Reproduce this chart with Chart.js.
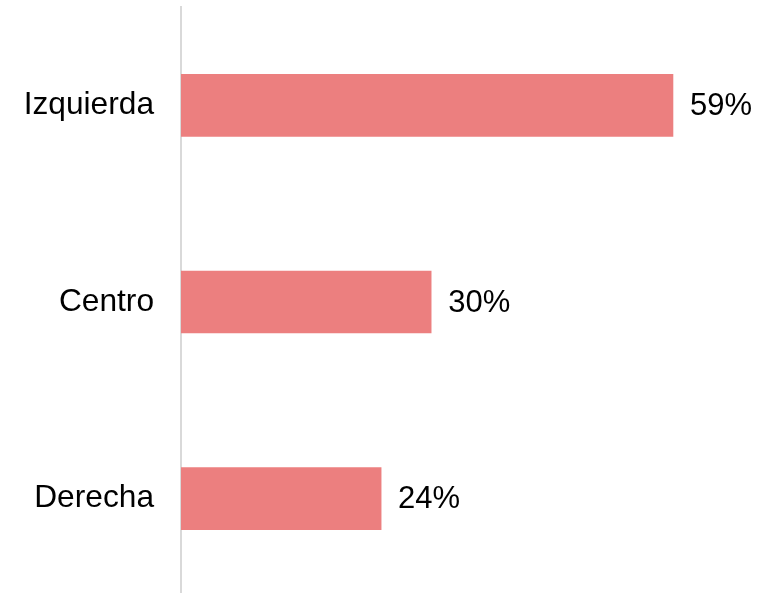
<!DOCTYPE html>
<html>
<head>
<meta charset="utf-8">
<script src="https://cdn.jsdelivr.net/npm/chart.js@4"></script>
<style>
html,body{margin:0;padding:0;background:#fff;overflow:hidden;}
#wrap{width:762px;height:593px;overflow:hidden;}
</style>
</head>
<body>
<div id="wrap"><canvas id="c" width="762" height="597"></canvas></div>
<script>
const categories = ["Izquierda", "Centro", "Derecha"];
const values = [59, 30, 24];
const valueLabels = ["59%", "30%", "24%"];

const FONT = "'Liberation Sans', Arial, sans-serif";

const labelPlugin = {
  id: 'valueLabels',
  afterDatasetsDraw(chart) {
    const ctx = chart.ctx;
    const meta = chart.getDatasetMeta(0);
    ctx.save();
    ctx.font = "31px " + FONT;
    ctx.fillStyle = "#000";
    ctx.textAlign = "left";
    ctx.textBaseline = "middle";
    meta.data.forEach((bar, i) => {
      ctx.fillText(valueLabels[i], bar.x + 17, bar.y + 1);
    });
    ctx.restore();
  }
};

new Chart(document.getElementById('c'), {
  type: 'bar',
  data: {
    labels: categories,
    datasets: [{
      data: values,
      backgroundColor: '#ec7f7f',
      borderWidth: 0,
      barThickness: 62
    }]
  },
  options: {
    indexAxis: 'y',
    responsive: false,
    animation: false,
    devicePixelRatio: 1,
    layout: { padding: { left: 0, right: 39, top: 7, bottom: 0 } },
    plugins: { legend: { display: false }, tooltip: { enabled: false } },
    scales: {
      x: {
        display: false,
        min: 0,
        max: 65
      },
      y: {
        afterFit(scale) { scale.width = 181; scale.paddingTop = 0; scale.paddingBottom = 0; },
        grid: { display: false, drawTicks: false },
        border: { display: true, color: '#d9d9d9', width: 2 },
        ticks: {
          padding: 27,
          color: '#000',
          font: { size: 31.7, family: FONT }
        }
      }
    }
  },
  plugins: [labelPlugin]
});
</script>
</body>
</html>
